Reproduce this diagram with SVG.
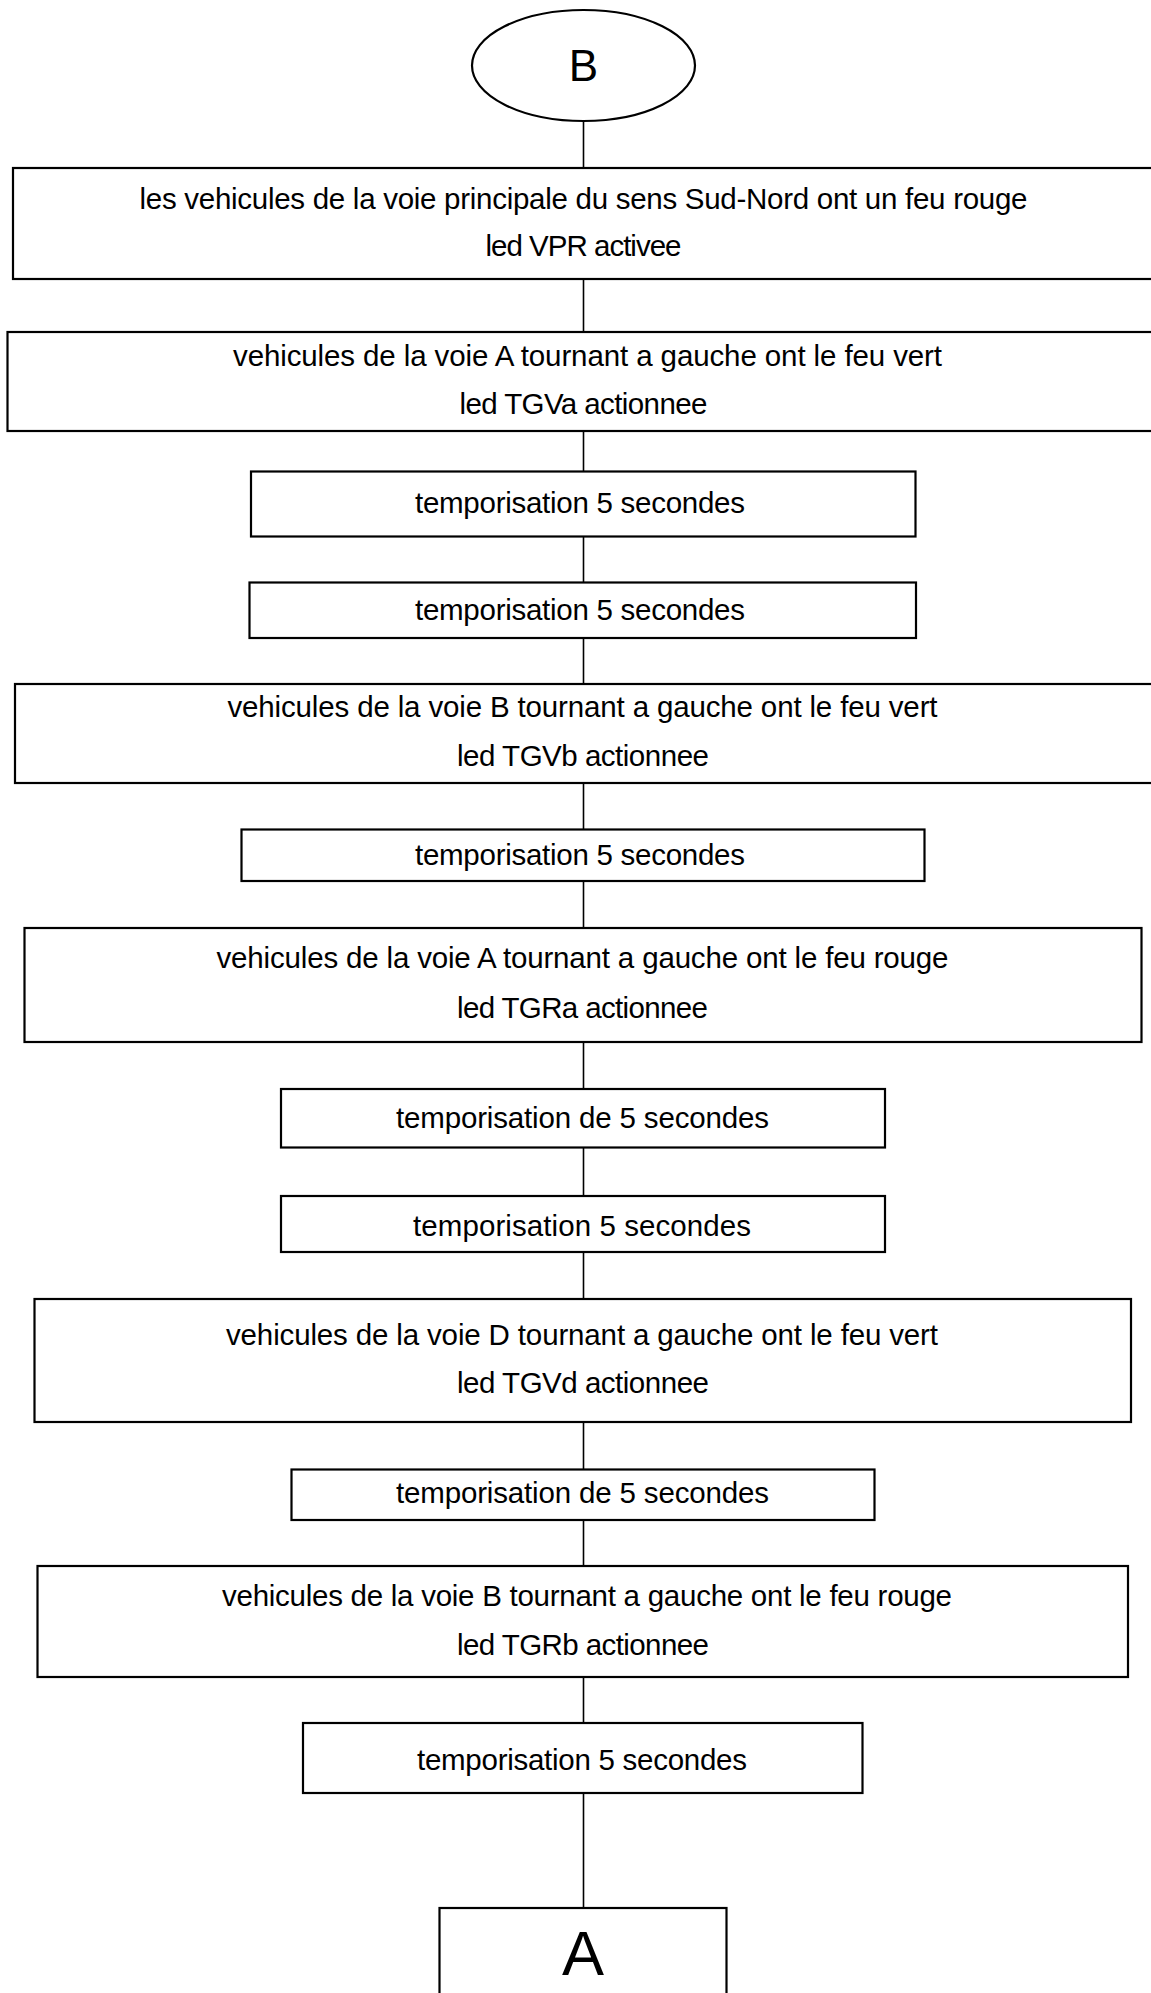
<svg xmlns="http://www.w3.org/2000/svg" width="1151" height="1993" viewBox="0 0 1151 1993">
<style>
.box{fill:#fff;stroke:#000;stroke-width:2.2}
.conn line{stroke:#000;stroke-width:1.6}
text{font-family:"Liberation Sans",Arial,sans-serif;font-size:29.5px;fill:#000;text-anchor:middle}
.big{font-size:44px}
.huge{font-size:63px}
</style>
<rect width="1151" height="1993" fill="#fff"/>
<g class="conn" id="connectors">
<line x1="583.5" y1="121" x2="583.5" y2="168"/>
<line x1="583.5" y1="279" x2="583.5" y2="332"/>
<line x1="583.5" y1="431" x2="583.5" y2="471.5"/>
<line x1="583.5" y1="536.5" x2="583.5" y2="582.5"/>
<line x1="583.5" y1="638" x2="583.5" y2="684"/>
<line x1="583.5" y1="783" x2="583.5" y2="829.5"/>
<line x1="583.5" y1="881" x2="583.5" y2="928"/>
<line x1="583.5" y1="1042" x2="583.5" y2="1089"/>
<line x1="583.5" y1="1147.5" x2="583.5" y2="1196"/>
<line x1="583.5" y1="1252" x2="583.5" y2="1299"/>
<line x1="583.5" y1="1422" x2="583.5" y2="1469.5"/>
<line x1="583.5" y1="1520" x2="583.5" y2="1566"/>
<line x1="583.5" y1="1677" x2="583.5" y2="1723"/>
<line x1="583.5" y1="1793" x2="583.5" y2="1908"/>
</g>
<g id="nodeB">
<ellipse class="box" cx="583.5" cy="65.5" rx="111.5" ry="55.5"/>
<text class="big" x="583.5" y="81">B</text>
</g>
<g id="n1">
<rect class="box" x="13" y="168" width="1145" height="111"/>
<text x="583.5" y="209" textLength="888">les vehicules de la voie principale du sens Sud-Nord ont un feu rouge</text>
<text x="583.5" y="256" textLength="196">led VPR activee</text>
</g>
<g id="n2">
<rect class="box" x="7.5" y="332" width="1150" height="99"/>
<text x="587.5" y="366" textLength="709">vehicules de la voie A tournant a gauche ont le feu vert</text>
<text x="583.5" y="414" textLength="248">led TGVa actionnee</text>
</g>
<g id="n3">
<rect class="box" x="251" y="471.5" width="664.5" height="65"/>
<text x="580" y="513" textLength="330">temporisation 5 secondes</text>
</g>
<g id="n4">
<rect class="box" x="249.5" y="582.5" width="666.5" height="55.5"/>
<text x="580" y="620" textLength="330">temporisation 5 secondes</text>
</g>
<g id="n5">
<rect class="box" x="15" y="684" width="1140" height="99"/>
<text x="582.5" y="717" textLength="710">vehicules de la voie B tournant a gauche ont le feu vert</text>
<text x="583" y="766" textLength="252">led TGVb actionnee</text>
</g>
<g id="n6">
<rect class="box" x="241.5" y="829.5" width="683" height="51.5"/>
<text x="580" y="865" textLength="330">temporisation 5 secondes</text>
</g>
<g id="n7">
<rect class="box" x="24.5" y="928" width="1117" height="114"/>
<text x="582.5" y="968" textLength="732">vehicules de la voie A tournant a gauche ont le feu rouge</text>
<text x="582.5" y="1018" textLength="251">led TGRa actionnee</text>
</g>
<g id="n8">
<rect class="box" x="281" y="1089" width="604" height="58.5"/>
<text x="582.5" y="1128" textLength="373">temporisation de 5 secondes</text>
</g>
<g id="n9">
<rect class="box" x="281" y="1196" width="604" height="56"/>
<text x="582" y="1236" textLength="338">temporisation 5 secondes</text>
</g>
<g id="n10">
<rect class="box" x="34.5" y="1299" width="1096.5" height="123"/>
<text x="582" y="1345" textLength="712">vehicules de la voie D tournant a gauche ont le feu vert</text>
<text x="583" y="1393" textLength="252">led TGVd actionnee</text>
</g>
<g id="n11">
<rect class="box" x="291.5" y="1469.5" width="583" height="50.5"/>
<text x="582.5" y="1503" textLength="373">temporisation de 5 secondes</text>
</g>
<g id="n12">
<rect class="box" x="37.5" y="1566" width="1090.5" height="111"/>
<text x="587" y="1606" textLength="730">vehicules de la voie B tournant a gauche ont le feu rouge</text>
<text x="583" y="1655" textLength="252">led TGRb actionnee</text>
</g>
<g id="n13">
<rect class="box" x="303" y="1723" width="559.5" height="70"/>
<text x="582" y="1770" textLength="330">temporisation 5 secondes</text>
</g>
<g id="nodeA">
<rect class="box" x="439.5" y="1908" width="287" height="100"/>
<text class="huge" x="583" y="1975">A</text>
</g>
</svg>
